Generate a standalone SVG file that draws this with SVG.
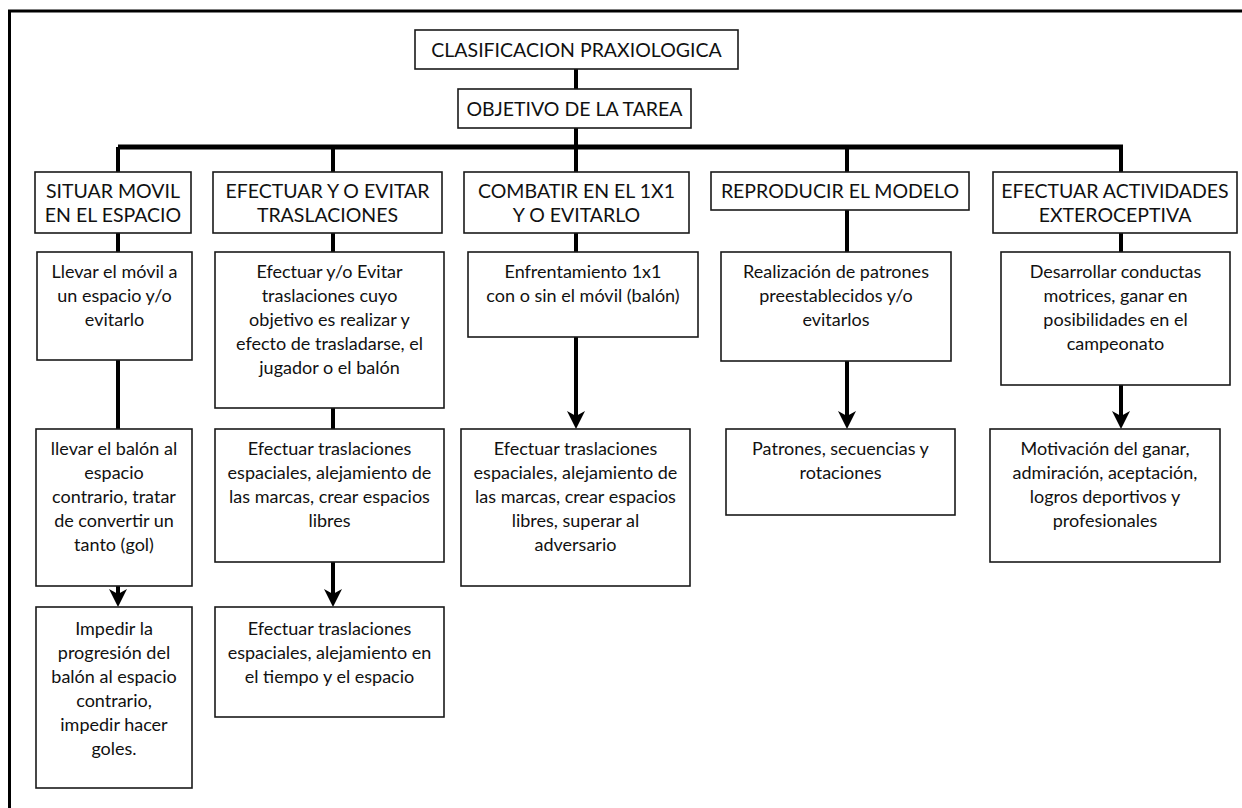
<svg xmlns="http://www.w3.org/2000/svg" width="1242" height="808" viewBox="0 0 1242 808">
<style>
.box{fill:#fff;stroke:#1a1a1a;stroke-width:1.6}
.t{font-family:Lato,"Open Sans","Liberation Sans",sans-serif;font-size:18px;fill:#111;text-anchor:middle}
.h{font-size:19.5px}
.c{fill:none;stroke:#000;stroke-width:4}
.bar{fill:none;stroke:#000;stroke-width:5}
.frame{fill:none;stroke:#000;stroke-width:3}
</style>
<defs>
<marker id="ah" markerUnits="userSpaceOnUse" viewBox="0 0 18 18" refX="10" refY="9" markerWidth="18" markerHeight="18" orient="auto">
<path d="M0,0 L18,9 L0,18 L5,9 Z" fill="#000"/>
</marker>
</defs>
<rect width="1242" height="808" fill="#fff"/>
<path class="frame" d="M9.5,808 V11 H1242"/>

<g id="connectors">
<path class="c" d="M576,69 V89 M576,128 V147"/>
<path class="bar" d="M118,147 H1123"/>
<path class="c" d="M118,147 V172 M333,147 V172 M576,147 V172 M847,147 V172 M1121,147 V172"/>
<path class="c" d="M118,233 V252 M333,233 V252 M576,233 V252 M847,210 V252 M1121,233 V252"/>
<path class="c" d="M118,360 V429 M333,408 V429"/>
<path class="c" marker-end="url(#ah)" d="M576,337 V421"/>
<path class="c" marker-end="url(#ah)" d="M847,361 V421"/>
<path class="c" marker-end="url(#ah)" d="M1121,385 V421"/>
<path class="c" marker-end="url(#ah)" d="M118,586 V599"/>
<path class="c" marker-end="url(#ah)" d="M333,562 V599"/>
</g>

<g id="n-root"><rect class="box" x="415" y="30" width="323" height="39"/><text class="t h" x="576.5" y="57">CLASIFICACION PRAXIOLOGICA</text></g>
<g id="n-objetivo"><rect class="box" x="458" y="89" width="233" height="39"/><text class="t h" x="574.5" y="116">OBJETIVO DE LA TAREA</text></g>

<g id="n-situar"><rect class="box" x="35" y="172" width="156" height="61"/><text class="t h" x="113" y="198">SITUAR MOVIL</text><text class="t h" x="113" y="222">EN EL ESPACIO</text></g>
<g id="n-efectuar"><rect class="box" x="213" y="172" width="229" height="61"/><text class="t h" x="327.5" y="198">EFECTUAR Y O EVITAR</text><text class="t h" x="327.5" y="222">TRASLACIONES</text></g>
<g id="n-combatir"><rect class="box" x="464" y="172" width="225" height="61"/><text class="t h" x="576.5" y="198">COMBATIR EN EL 1X1</text><text class="t h" x="576.5" y="222">Y O EVITARLO</text></g>
<g id="n-reproducir"><rect class="box" x="711" y="172" width="258" height="38"/><text class="t h" x="840" y="198">REPRODUCIR EL MODELO</text></g>
<g id="n-actividades"><rect class="box" x="993" y="172" width="244" height="61"/><text class="t h" x="1115" y="198">EFECTUAR ACTIVIDADES</text><text class="t h" x="1115" y="222">EXTEROCEPTIVA</text></g>

<g id="n-situar-2"><rect class="box" x="37" y="252" width="155" height="108"/><text class="t" x="114.5" y="278">Llevar el móvil a</text><text class="t" x="114.5" y="302">un espacio y/o</text><text class="t" x="114.5" y="326">evitarlo</text></g>
<g id="n-efectuar-2"><rect class="box" x="215" y="252" width="229" height="156"/><text class="t" x="329.5" y="278">Efectuar y/o Evitar</text><text class="t" x="329.5" y="302">traslaciones cuyo</text><text class="t" x="329.5" y="326">objetivo es realizar y</text><text class="t" x="329.5" y="350">efecto de trasladarse, el</text><text class="t" x="329.5" y="374">jugador o el balón</text></g>
<g id="n-combatir-2"><rect class="box" x="468" y="252" width="230" height="85"/><text class="t" x="583" y="278">Enfrentamiento 1x1</text><text class="t" x="583" y="302">con o sin el móvil (balón)</text></g>
<g id="n-reproducir-2"><rect class="box" x="721" y="252" width="230" height="109"/><text class="t" x="836" y="278">Realización de patrones</text><text class="t" x="836" y="302">preestablecidos y/o</text><text class="t" x="836" y="326">evitarlos</text></g>
<g id="n-actividades-2"><rect class="box" x="1001" y="252" width="229" height="133"/><text class="t" x="1115.5" y="278">Desarrollar conductas</text><text class="t" x="1115.5" y="302">motrices, ganar en</text><text class="t" x="1115.5" y="326">posibilidades en el</text><text class="t" x="1115.5" y="350">campeonato</text></g>

<g id="n-situar-3"><rect class="box" x="36" y="429" width="156" height="157"/><text class="t" x="114" y="455">llevar el balón al</text><text class="t" x="114" y="479">espacio</text><text class="t" x="114" y="503">contrario, tratar</text><text class="t" x="114" y="527">de convertir un</text><text class="t" x="114" y="551">tanto (gol)</text></g>
<g id="n-efectuar-3"><rect class="box" x="215" y="429" width="229" height="133"/><text class="t" x="329.5" y="455">Efectuar traslaciones</text><text class="t" x="329.5" y="479">espaciales, alejamiento de</text><text class="t" x="329.5" y="503">las marcas, crear espacios</text><text class="t" x="329.5" y="527">libres</text></g>
<g id="n-combatir-3"><rect class="box" x="461" y="429" width="229" height="157"/><text class="t" x="575.5" y="455">Efectuar traslaciones</text><text class="t" x="575.5" y="479">espaciales, alejamiento de</text><text class="t" x="575.5" y="503">las marcas, crear espacios</text><text class="t" x="575.5" y="527">libres, superar al</text><text class="t" x="575.5" y="551">adversario</text></g>
<g id="n-reproducir-3"><rect class="box" x="726" y="429" width="229" height="86"/><text class="t" x="840.5" y="455">Patrones, secuencias y</text><text class="t" x="840.5" y="479">rotaciones</text></g>
<g id="n-actividades-3"><rect class="box" x="990" y="429" width="230" height="133"/><text class="t" x="1105" y="455">Motivación del ganar,</text><text class="t" x="1105" y="479">admiración, aceptación,</text><text class="t" x="1105" y="503">logros deportivos y</text><text class="t" x="1105" y="527">profesionales</text></g>

<g id="n-situar-4"><rect class="box" x="36" y="607" width="156" height="181"/><text class="t" x="114" y="635">Impedir la</text><text class="t" x="114" y="659">progresión del</text><text class="t" x="114" y="683">balón al espacio</text><text class="t" x="114" y="707">contrario,</text><text class="t" x="114" y="731">impedir hacer</text><text class="t" x="114" y="755">goles.</text></g>
<g id="n-efectuar-4"><rect class="box" x="215" y="607" width="229" height="110"/><text class="t" x="329.5" y="635">Efectuar traslaciones</text><text class="t" x="329.5" y="659">espaciales, alejamiento en</text><text class="t" x="329.5" y="683">el tiempo y el espacio</text></g>
</svg>
